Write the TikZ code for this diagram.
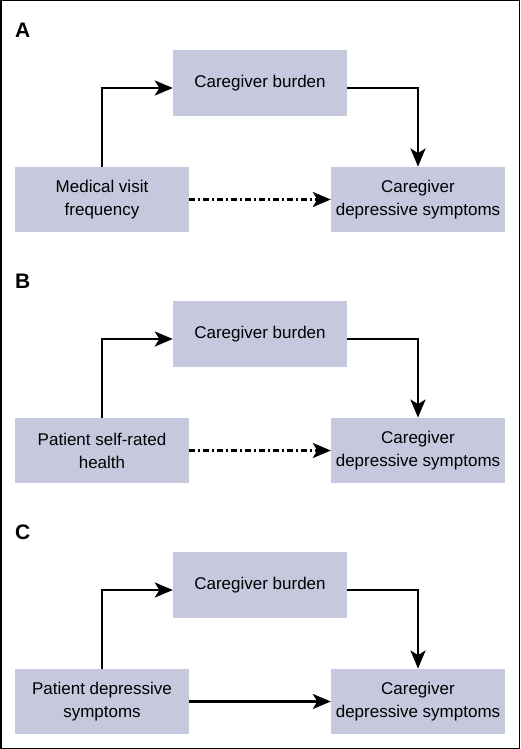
\documentclass[tikz,border=0pt]{standalone}
\usepackage{fontspec}
\setmainfont{Liberation Sans}
\usetikzlibrary{arrows.meta}
\definecolor{boxfill}{HTML}{C6C8DE}
\begin{document}
\begin{tikzpicture}[x=1pt,y=-1pt,
  box/.style={fill=boxfill, minimum width=174pt, minimum height=65.5pt, inner sep=0pt, align=center, font=\fontsize{17}{23}\selectfont},
  plabel/.style={font=\fontsize{21}{21}\selectfont\bfseries, anchor=west, inner sep=0pt},
  conn/.style={line width=2.4pt, -{Stealth[length=18pt,width=15pt,inset=4.5pt]}},
  dashdot/.style={conn, dash pattern=on 6pt off 3pt on 2pt off 3pt}
]
\useasboundingbox (0,0) rectangle (520,749);
\draw[line width=1.5pt] (0.75,0.75) rectangle (519.25,748.25);

% Panel A
\node[plabel] (la) at (15,30) {A};
\node[box] (ab) at (260,83) {Caregiver burden};
\node[box] (am) at (102,199.5) {Medical visit\\frequency};
\node[box] (ac) at (418,199.5) {Caregiver\\depressive symptoms};
\draw[conn] (am.north) |- ([yshift=-5pt]ab.west);
\draw[conn] ([yshift=-5pt]ab.east) -| (ac.north);
\draw[dashdot] (am.east) -- (ac.west);

% Panel B
\node[plabel] (lb) at (15,281) {B};
\node[box] (bb) at (260,334) {Caregiver burden};
\node[box] (bm) at (102,450.5) {Patient self-rated\\health};
\node[box] (bc) at (418,450.5) {Caregiver\\depressive symptoms};
\draw[conn] (bm.north) |- ([yshift=-5pt]bb.west);
\draw[conn] ([yshift=-5pt]bb.east) -| (bc.north);
\draw[dashdot] (bm.east) -- (bc.west);

% Panel C
\node[plabel] (lc) at (15,532) {C};
\node[box] (cb) at (260,585) {Caregiver burden};
\node[box] (cm) at (102,701.5) {Patient depressive\\symptoms};
\node[box] (cc) at (418,701.5) {Caregiver\\depressive symptoms};
\draw[conn] (cm.north) |- ([yshift=-5pt]cb.west);
\draw[conn] ([yshift=-5pt]cb.east) -| (cc.north);
\draw[conn] (cm.east) -- (cc.west);
\end{tikzpicture}
\end{document}
